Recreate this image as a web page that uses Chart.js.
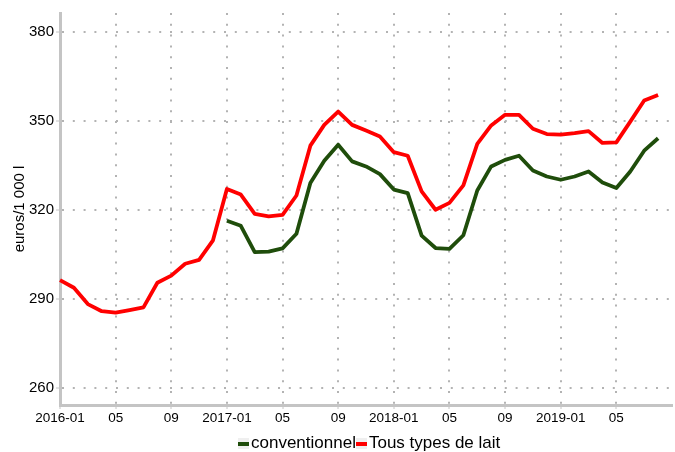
<!DOCTYPE html>
<html>
<head>
<meta charset="utf-8">
<script src="https://cdn.jsdelivr.net/npm/chart.js@4"></script>
<style>
  html, body { margin: 0; padding: 0; background: #fff; }
  #wrap { position: relative; width: 675px; height: 452px; }
  #legend {
    position: absolute; left: 238px; top: 433px;
    font: 17px "Liberation Sans", Arial, sans-serif; color: #000;
    display: flex; align-items: center; white-space: nowrap; line-height: 20px;
  }
  .key { display: inline-block; width: 11px; height: 11px; background: #efefef; position: relative; margin-right: 2px; }
  .key i { position: absolute; left: 0; right: 0; top: 4px; height: 4px; }
</style>
</head>
<body>
<div id="wrap">
  <canvas id="myChart" width="675" height="452"></canvas>
  <div id="legend"></div>
</div>
<script>
// Months on the x axis (one extra month at the end, no data)
const months = [
  '2016-01', '2016-02', '2016-03', '2016-04', '2016-05', '2016-06', '2016-07', '2016-08', '2016-09', '2016-10', '2016-11', '2016-12',
  '2017-01', '2017-02', '2017-03', '2017-04', '2017-05', '2017-06', '2017-07', '2017-08', '2017-09', '2017-10', '2017-11', '2017-12',
  '2018-01', '2018-02', '2018-03', '2018-04', '2018-05', '2018-06', '2018-07', '2018-08', '2018-09', '2018-10', '2018-11', '2018-12',
  '2019-01', '2019-02', '2019-03', '2019-04', '2019-05', '2019-06', '2019-07', '2019-08', '2019-09',
];

// Tick labels shown every 4 months
const xTickLabels = ['2016-01', '05', '09', '2017-01', '05', '09', '2018-01', '05', '09', '2019-01', '05'];
const yTicks = [260, 290, 320, 350, 380];

// Prices, euros / 1 000 l
const tousTypes = [
  296.3, 293.7, 288.2, 285.8, 285.3, 286.2, 287.1, 295.4, 297.8, 301.8, 303.1, 309.7,
  327.0, 325.1, 318.6, 317.8, 318.3, 324.8, 341.6, 348.6, 353.1, 348.6, 346.7, 344.7,
  339.4, 338.2, 326.2, 320.0, 322.3, 328.2, 342.2, 348.4, 352.0, 352.0, 347.3, 345.5,
  345.3, 345.8, 346.5, 342.5, 342.7, 349.7, 356.8, 358.7,
];
const conventionnel = [
  null, null, null, null, null, null, null, null, null, null, null, null,
  316.3, 314.6, 305.7, 305.9, 307.0, 311.9, 329.0, 336.5, 341.9, 336.3, 334.6, 332.0,
  326.8, 325.6, 311.3, 307.1, 306.8, 311.4, 326.5, 334.6, 336.8, 338.2, 333.2, 331.2,
  330.1, 331.2, 332.9, 329.2, 327.3, 332.9, 339.9, 344.1,
];

const seriesNames = ['conventionnel', 'Tous types de lait'];
const seriesColors = ['#1f4d0b', '#ff0000'];

const gridColor = '#b3b3b3';
const axisColor = '#c4c4c4';
const font = '"Liberation Sans", Arial, sans-serif';

const ctx = document.getElementById('myChart').getContext('2d');

const chart = new Chart(ctx, {
  type: 'line',
  data: {
    labels: months,
    datasets: [
      { label: seriesNames[0], data: conventionnel, borderColor: seriesColors[0], backgroundColor: seriesColors[0] },
      { label: seriesNames[1], data: tousTypes, borderColor: seriesColors[1], backgroundColor: seriesColors[1] },
    ],
  },
  options: {
    responsive: false,
    animation: false,
    spanGaps: false,
    layout: { padding: { top: 13, right: 3, left: 0, bottom: 0 } },
    elements: {
      line: { borderWidth: 3.8, tension: 0, borderJoinStyle: 'round', borderCapStyle: 'butt' },
      point: { radius: 0, hoverRadius: 0 },
    },
    plugins: {
      legend: { display: false },
      tooltip: { enabled: false },
    },
    scales: {
      x: {
        type: 'category',
        offset: false,
        afterBuildTicks: (scale) => {
          scale.ticks = scale.ticks.filter((t) => t.value % 4 === 0 && t.value < 44);
        },
        afterFit: (scale) => { scale.height = 47; },
        ticks: {
          autoSkip: false,
          maxRotation: 0,
          padding: 1,
          color: '#000',
          font: { family: font, size: 13.5 },
          callback: (value) => xTickLabels[value / 4],
        },
        grid: { color: gridColor, lineWidth: 2, tickLength: 4, tickColor: axisColor, tickWidth: 1 },
        border: { color: axisColor, width: 3, dash: [2, 8.8] },
      },
      y: {
        min: 254.2,
        max: 386.3,
        afterBuildTicks: (scale) => {
          scale.ticks = yTicks.map((v) => ({ value: v }));
        },
        afterFit: (scale) => { scale.width = 60; },
        ticks: {
          padding: 2,
          color: '#000',
          font: { family: font, size: 15 },
        },
        title: {
          display: true,
          text: 'euros/1 000 l',
          color: '#000',
          font: { family: font, size: 15 },
          padding: { top: 11, bottom: 0 },
        },
        grid: { color: gridColor, lineWidth: 2, tickLength: 4, tickColor: axisColor, tickWidth: 1 },
        border: { color: axisColor, width: 3, dash: [2, 8.8] },
      },
    },
  },
});

// Legend drawn as html below the plot
const legend = document.getElementById('legend');
seriesNames.forEach((name, i) => {
  const key = document.createElement('span');
  key.className = 'key';
  key.innerHTML = '<i style="background:' + seriesColors[i] + '"></i>';
  legend.appendChild(key);
  const txt = document.createElement('span');
  txt.textContent = name;
  legend.appendChild(txt);
});
</script>
</body>
</html>
